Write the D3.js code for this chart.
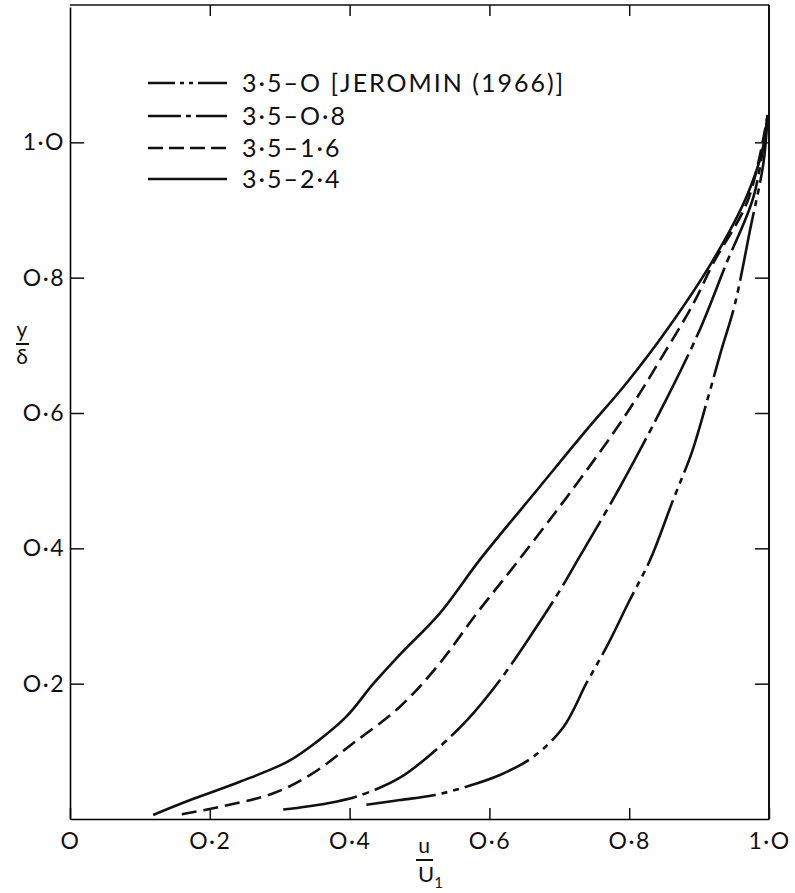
<!DOCTYPE html>
<html>
<head>
<meta charset="utf-8">
<script src="https://cdn.jsdelivr.net/npm/d3@7"></script>
<style>
  body { margin: 0; background: #fff; }
  text { font-family: Lato, "DejaVu Sans", sans-serif; fill: #111; }
</style>
</head>
<body>
<script>
// series: 3.5-0 (Jeromin), 3.5-0.8, 3.5-1.6, 3.5-2.4
var seriesNames = ["3·5–O [JEROMIN (1966)]", "3·5–O·8", "3·5–1·6", "3·5–2·4"];

var u0 = [0.424, 0.472, 0.520, 0.568, 0.615, 0.663, 0.706, 0.739, 0.768, 0.801, 0.830, 0.863, 0.890, 0.912, 0.931, 0.951, 0.973, 0.992, 0.998];
var y0 = [0.021, 0.028, 0.035, 0.048, 0.065, 0.092, 0.136, 0.201, 0.255, 0.324, 0.383, 0.472, 0.543, 0.620, 0.690, 0.760, 0.871, 0.969, 1.04];

var u08 = [0.305, 0.367, 0.415, 0.472, 0.520, 0.568, 0.615, 0.663, 0.701, 0.727, 0.787, 0.854, 0.901, 0.939, 0.978, 0.998];
var y08 = [0.014, 0.023, 0.035, 0.061, 0.099, 0.146, 0.205, 0.277, 0.338, 0.384, 0.491, 0.622, 0.723, 0.821, 0.920, 1.04];

var u16 = [0.160, 0.210, 0.291, 0.348, 0.405, 0.472, 0.525, 0.582, 0.640, 0.711, 0.777, 0.815, 0.844, 0.892, 0.920, 0.970, 0.998];
var y16 = [0.007, 0.017, 0.038, 0.068, 0.112, 0.166, 0.225, 0.304, 0.380, 0.476, 0.570, 0.629, 0.678, 0.762, 0.821, 0.915, 1.04];

var u24 = [0.119, 0.172, 0.243, 0.312, 0.353, 0.396, 0.434, 0.472, 0.529, 0.587, 0.672, 0.739, 0.796, 0.854, 0.920, 0.968, 0.992, 0.998];
var y24 = [0.006, 0.028, 0.055, 0.085, 0.114, 0.152, 0.200, 0.243, 0.304, 0.384, 0.491, 0.575, 0.644, 0.723, 0.826, 0.920, 0.994, 1.04];

var xTicks = [0, 0.2, 0.4, 0.6, 0.8, 1.0];
var yTicks = [0.2, 0.4, 0.6, 0.8, 1.0];

var w = 795, h = 893;
var mLeft = 70, mRight = 769, mTop = 5, mBottom = 819;

var x = d3.scaleLinear().domain([0, 1]).range([mLeft, mRight]);
var y = d3.scaleLinear().domain([0, 1.2]).range([mBottom, mTop + 2]);

var svg = d3.select("body").append("svg")
    .attr("width", w)
    .attr("height", h);

function fmt(d) {
    if (d === 0) return "O";
    return d3.format(".1f")(d).replace(".", "·").replace(/0/g, "O");
}

// frame lines
svg.append("line").attr("x1", mLeft).attr("x2", mRight).attr("y1", mTop).attr("y2", mTop)
    .attr("stroke", "#111").attr("stroke-width", 1.6);
svg.append("line").attr("x1", mRight).attr("x2", mRight).attr("y1", mTop).attr("y2", mBottom)
    .attr("stroke", "#111").attr("stroke-width", 2);

// bottom axis
var gx = svg.append("g")
    .attr("transform", "translate(0," + mBottom + ")")
    .call(d3.axisBottom(x).tickValues(xTicks).tickFormat(fmt)
        .tickSizeInner(-11).tickSizeOuter(0).tickPadding(14));
gx.selectAll("text").attr("font-size", 23).attr("letter-spacing", 1.5)
    .attr("font-family", "Lato, sans-serif").attr("fill", "#111");

// left axis
var gy = svg.append("g")
    .attr("transform", "translate(" + mLeft + ",0)")
    .call(d3.axisLeft(y).tickValues(yTicks).tickFormat(fmt)
        .tickSizeInner(-14).tickSizeOuter(0).tickPadding(5));
gy.selectAll("text").attr("font-size", 23).attr("letter-spacing", 1.5)
    .attr("font-family", "Lato, sans-serif").attr("fill", "#111");
gy.select(".domain").attr("stroke-width", 1.6);
gx.select(".domain").attr("stroke-width", 1.6);

// top and right inward ticks
svg.append("g")
    .attr("transform", "translate(0," + mTop + ")")
    .call(d3.axisTop(x).tickValues([0.2, 0.4, 0.6, 0.8]).tickFormat("")
        .tickSizeInner(-11).tickSizeOuter(0))
    .select(".domain").remove();
svg.append("g")
    .attr("transform", "translate(" + mRight + ",0)")
    .call(d3.axisRight(y).tickValues(yTicks).tickFormat("")
        .tickSizeInner(-14).tickSizeOuter(0))
    .select(".domain").remove();

svg.selectAll(".tick line").attr("stroke", "#111").attr("stroke-width", 1.5);

// curves
var dashes = ["70,6,6,6,6,6", "75,6,7,6", "15,7", null];
var legendDashes = ["27,5,4,5,4,5,40", "33,5,5,5,40", "15,6", null];
var series = [
    d3.zip(u0, y0),
    d3.zip(u08, y08),
    d3.zip(u16, y16),
    d3.zip(u24, y24)
];

var line = d3.line()
    .x(function (d) { return x(d[0]); })
    .y(function (d) { return y(d[1]); })
    .curve(d3.curveCatmullRom.alpha(0.5));

series.forEach(function (s, i) {
    svg.append("path")
        .datum(s)
        .attr("d", line)
        .attr("fill", "none")
        .attr("stroke", "#111")
        .attr("stroke-width", 2.6)
        .attr("stroke-dasharray", dashes[i]);
});

// legend
var legY = [83, 116, 148, 179];
seriesNames.forEach(function (name, i) {
    svg.append("line")
        .attr("x1", 148).attr("x2", 227)
        .attr("y1", legY[i]).attr("y2", legY[i])
        .attr("stroke", "#111")
        .attr("stroke-width", 2.4)
        .attr("stroke-dasharray", legendDashes[i]);
    svg.append("text")
        .attr("x", 242).attr("y", legY[i])
        .attr("dy", "0.36em")
        .attr("font-size", 25)
        .attr("letter-spacing", 2)
        .text(name);
});

// axis titles
svg.append("text").attr("x", 22).attr("y", 337).attr("text-anchor", "middle")
    .attr("font-size", 21).text("y");
svg.append("line").attr("x1", 16).attr("x2", 29).attr("y1", 344).attr("y2", 344)
    .attr("stroke", "#111").attr("stroke-width", 2);
svg.append("text").attr("x", 22).attr("y", 364).attr("text-anchor", "middle")
    .attr("font-size", 21).text("δ");

svg.append("text").attr("x", 424).attr("y", 853).attr("text-anchor", "middle")
    .attr("font-size", 21).text("u");
svg.append("line").attr("x1", 416).attr("x2", 433).attr("y1", 860).attr("y2", 860)
    .attr("stroke", "#111").attr("stroke-width", 2);
var ut = svg.append("text").attr("x", 418).attr("y", 882).attr("font-size", 22);
ut.append("tspan").text("U");
ut.append("tspan").attr("font-size", 15).attr("dy", 6).text("1");
</script>
</body>
</html>
